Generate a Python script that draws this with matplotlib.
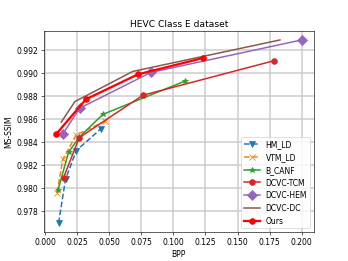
import matplotlib
matplotlib.use("Agg")
import matplotlib.pyplot as plt

hm_bpp = [0.0104, 0.0158, 0.0242, 0.0434]
hm_ssim = [0.97695, 0.98076, 0.98324, 0.98513]

vtm_bpp = [0.0091, 0.0138, 0.0242, 0.0470]
vtm_ssim = [0.9796, 0.9825, 0.9846, 0.9858]

canf_bpp = [0.0099, 0.0182, 0.0265, 0.0449, 0.1094]
canf_ssim = [0.9798, 0.9831, 0.9844, 0.98638, 0.98929]

tcm_bpp = [0.0143, 0.0265, 0.0761, 0.1785]
tcm_ssim = [0.9809, 0.98436, 0.98804, 0.99104]

hem_bpp = [0.0135, 0.0268, 0.0823, 0.200]
hem_ssim = [0.98464, 0.98691, 0.99002, 0.99284]

dc_bpp = [0.0125, 0.0231, 0.0683, 0.1831]
dc_ssim = [0.98571, 0.98749, 0.99011, 0.99284]

ours_bpp = [0.0083, 0.0317, 0.0722, 0.1231]
ours_ssim = [0.98464, 0.98769, 0.98985, 0.99127]

plt.rcParams["lines.linewidth"] = 2
plt.rcParams["lines.markersize"] = 7.5

fig = plt.figure(figsize=(6.4, 4.8), dpi=54.5)
plt.plot(hm_bpp, hm_ssim, "v--", color="tab:blue", label="HM_LD")
plt.plot(vtm_bpp, vtm_ssim, "x--", color="tab:orange", label="VTM_LD")
plt.plot(canf_bpp, canf_ssim, "*-", color="tab:green", label="B_CANF")
plt.plot(tcm_bpp, tcm_ssim, "o-", color="tab:red", label="DCVC-TCM")
plt.plot(hem_bpp, hem_ssim, "D-", color="tab:purple", markersize=8.5, label="DCVC-HEM")
plt.plot(dc_bpp, dc_ssim, "-", color="tab:brown", label="DCVC-DC")
plt.plot(ours_bpp, ours_ssim, "o-", color="red", linewidth=3, label="Ours")
plt.xlabel("BPP")
plt.ylabel("MS-SSIM")
plt.title("HEVC Class E dataset")
plt.grid(color="#cccccc", linewidth=2)
plt.legend(loc="lower right")
plt.savefig("out.png", dpi=54.5)
